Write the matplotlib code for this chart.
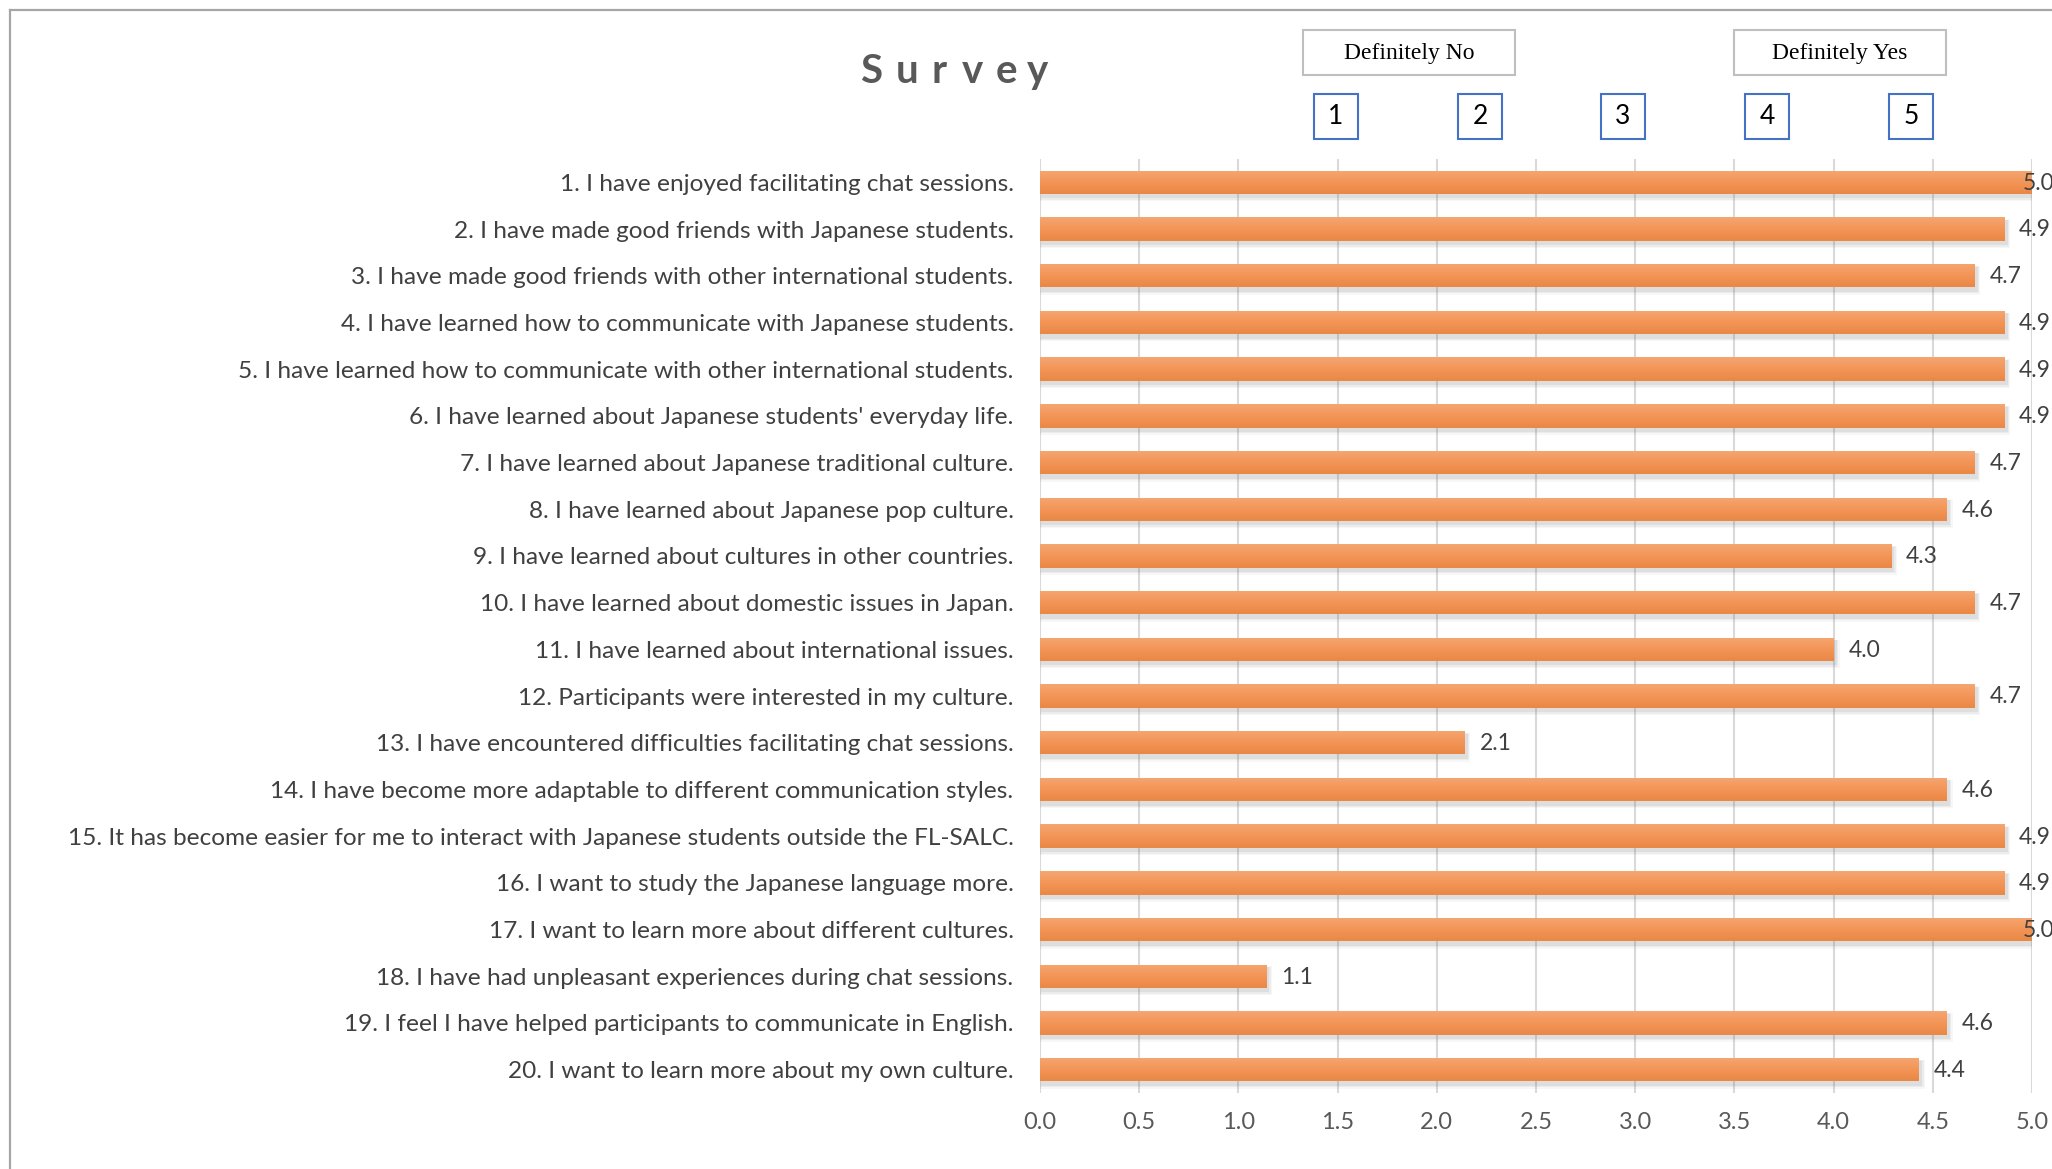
import matplotlib
matplotlib.use("Agg")
import matplotlib.pyplot as plt
import numpy as np
from matplotlib.colors import LinearSegmentedColormap
from matplotlib.patches import Rectangle
from matplotlib.lines import Line2D

questions = [
    "1. I have enjoyed facilitating chat sessions.",
    "2. I have made good friends with Japanese students.",
    "3. I have made good friends with other international students.",
    "4. I have learned how to communicate with Japanese students.",
    "5. I have learned how to communicate with other international students.",
    "6. I have learned about Japanese students' everyday life.",
    "7. I have learned about Japanese traditional culture.",
    "8. I have learned about Japanese pop culture.",
    "9. I have learned about cultures in other countries.",
    "10. I have learned about domestic issues in Japan.",
    "11. I have learned about international issues.",
    "12. Participants were interested in my culture.",
    "13. I have encountered difficulties facilitating chat sessions.",
    "14. I have become more adaptable to different communication styles.",
    "15. It has become easier for me to interact with Japanese students outside the FL-SALC.",
    "16. I want to study the Japanese language more.",
    "17. I want to learn more about different cultures.",
    "18. I have had unpleasant experiences during chat sessions.",
    "19. I feel I have helped participants to communicate in English.",
    "20. I want to learn more about my own culture.",
]
scores = [5.00, 4.86, 4.71, 4.86, 4.86, 4.86, 4.71, 4.57, 4.29, 4.71,
          4.00, 4.71, 2.14, 4.57, 4.86, 4.86, 5.00, 1.14, 4.57, 4.43]
x_ticks = [0.0, 0.5, 1.0, 1.5, 2.0, 2.5, 3.0, 3.5, 4.0, 4.5, 5.0]
scale_labels = ["1", "2", "3", "4", "5"]
anchor_labels = ["Definitely No", "Definitely Yes"]
title_text = "Survey"

W, H = 2052, 1169
fig = plt.figure(figsize=(W / 100, H / 100), dpi=100)
fig.patch.set_facecolor("white")

# frame border (cropped chart area)
fig.add_artist(Line2D([10 / W, 1.0], [1 - 10 / H, 1 - 10 / H], transform=fig.transFigure,
                      color="#A6A6A6", lw=1.6))
fig.add_artist(Line2D([10 / W, 10 / W], [0.0, 1 - 10 / H], transform=fig.transFigure,
                      color="#A6A6A6", lw=1.6))

ax_left, ax_right = 1040, 2032
ax_top, ax_bot = 159, 1093
ax = fig.add_axes([ax_left / W, 1 - ax_bot / H, (ax_right - ax_left) / W, (ax_bot - ax_top) / H])

n = len(questions)
ypos = np.arange(n)
bh = 0.5
ax.set_xlim(0, 5)
ax.set_ylim(n - 0.5, -0.5)

cmap = LinearSegmentedColormap.from_list("bar", ["#F5A672", "#F39557", "#EA8845"])
grad = np.linspace(0, 1, 64).reshape(-1, 1)

px_x = 5.0 / (ax_right - ax_left)
px_y = n / (ax_bot - ax_top)

for yi, v in zip(ypos, scores):
    # soft shadow
    for k, a in enumerate([0.12, 0.09, 0.06]):
        grow = (k + 1) * 1.3
        ax.add_patch(Rectangle((2 * px_x - grow * px_x, yi - bh / 2 + 3 * px_y - grow * px_y * 0.3),
                               v + 2 * grow * px_x, bh + grow * px_y * 1.4,
                               facecolor="#7F7F7F", edgecolor="none", alpha=a, zorder=2))

bars = ax.barh(ypos, scores, height=bh, color="#F39557", zorder=3)
for patch, yi, v in zip(bars.patches, ypos, scores):
    im = ax.imshow(grad, extent=(0, v, yi + bh / 2, yi - bh / 2), origin="upper",
                   aspect="auto", cmap=cmap, zorder=4, interpolation="bicubic")
    im.set_clip_path(patch)
    lx = min(v + 15 * px_x, 4.955)
    ax.text(lx, yi + 0.02, f"{v:.1f}", ha="left", va="center", fontsize=16.5,
            family="Lato", color="#404040", zorder=5, clip_on=False)

ax.set_xlim(0, 5)
ax.set_ylim(n - 0.5, -0.5)
ax.set_xticks(x_ticks)
ax.set_xticklabels([f"{t:.1f}" for t in x_ticks], family="Lato", fontsize=17, color="#595959")
ax.set_yticks(ypos)
ax.set_yticklabels(questions, family="Lato", fontsize=17.6, color="#404040")
ax.tick_params(axis="y", length=0, pad=19)
ax.tick_params(axis="x", length=0, pad=14)
ax.grid(axis="x", color="#D9D9D9", lw=1.5, zorder=0)
ax.set_axisbelow(True)
for s in ax.spines.values():
    s.set_visible(False)

# title (letter-spaced)
for ch, cx in zip(title_text, [871.5, 907, 939.5, 972.5, 1006, 1037.5]):
    fig.text(cx / W, 1 - 83 / H, ch, ha="center", va="baseline",
             family="Lato", fontweight="bold", fontsize=29, color="#595959")

# anchor boxes
for label, cx in zip(anchor_labels, [1409, 1840]):
    fig.add_artist(Rectangle(((cx - 106) / W, 1 - 75 / H), 212 / W, 45 / H,
                             transform=fig.transFigure, facecolor="white",
                             edgecolor="#BFBFBF", lw=1.5, zorder=1))
    fig.text(cx / W, 1 - 53 / H, label, ha="center", va="center", family="Liberation Serif",
             fontsize=17, color="black", zorder=2)

for label, cx in zip(scale_labels, [1336, 1480, 1623, 1767, 1911]):
    fig.add_artist(Rectangle(((cx - 22) / W, 1 - 139 / H), 44 / W, 45 / H,
                             transform=fig.transFigure, facecolor="white",
                             edgecolor="#4472C4", lw=1.5, zorder=1))
    fig.text(cx / W, 1 - 116 / H, label, ha="center", va="center", family="Lato",
             fontsize=19, color="black", zorder=2)

fig.savefig("out.png", dpi=100, facecolor="white")
